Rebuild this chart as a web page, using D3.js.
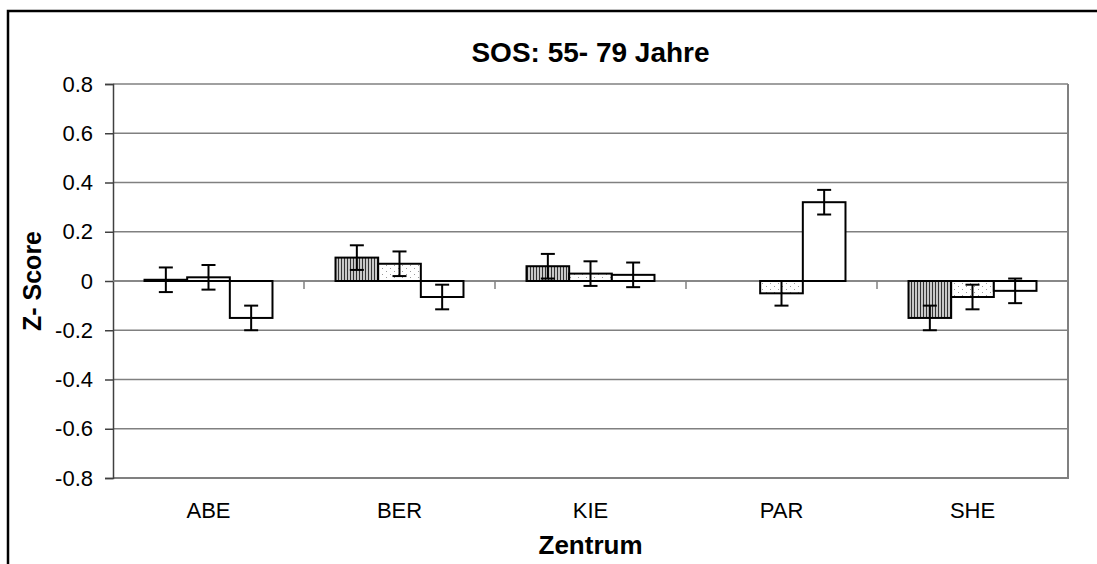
<!DOCTYPE html>
<html>
<head>
<meta charset="utf-8">
<script src="https://cdn.jsdelivr.net/npm/d3@7"></script>
<style>
  body { margin: 0; background: #fff; }
  text { font-family: "Liberation Sans", Arial, sans-serif; }
</style>
</head>
<body>
<div id="chart"></div>
<script>
// size of the svg
var svgWidth = 1097;
var svgHeight = 564;

// plot area
var margin = { top: 84, right: 29, bottom: 86, left: 113 };
var width = svgWidth - margin.left - margin.right;
var height = svgHeight - margin.top - margin.bottom;

// data
var centres = ["ABE", "BER", "KIE", "PAR", "SHE"];
var series = ["s1", "s2", "s3"];
var s1 = [0.005, 0.095, 0.06, null, -0.15];
var s2 = [0.015, 0.07, 0.03, -0.05, -0.065];
var s3 = [-0.15, -0.065, 0.025, 0.32, -0.04];
var err = 0.05;
var yTicks = [0.8, 0.6, 0.4, 0.2, 0, -0.2, -0.4, -0.6, -0.8];

var svg = d3.select("#chart").append("svg")
  .attr("width", svgWidth)
  .attr("height", svgHeight);

// patterns
var defs = svg.append("defs");
var stripes = defs.append("pattern")
  .attr("id", "stripes").attr("patternUnits", "userSpaceOnUse")
  .attr("width", 3).attr("height", 3);
stripes.append("rect").attr("width", 3).attr("height", 3).attr("fill", "#c8c8c8");
stripes.append("rect").attr("x", 0).attr("width", 1).attr("height", 3).attr("fill", "#333");

var dots = defs.append("pattern")
  .attr("id", "dots").attr("patternUnits", "userSpaceOnUse")
  .attr("width", 8).attr("height", 6);
dots.append("rect").attr("width", 8).attr("height", 6).attr("fill", "#fff");
dots.append("rect").attr("x", 1).attr("y", 1).attr("width", 1).attr("height", 1).attr("fill", "#999");
dots.append("rect").attr("x", 5).attr("y", 4).attr("width", 1).attr("height", 1).attr("fill", "#999");

var fills = { s1: "url(#stripes)", s2: "url(#dots)", s3: "#fff" };

// outer frame
svg.append("rect")
  .attr("x", 8).attr("y", 11)
  .attr("width", 1200).attr("height", 700)
  .attr("fill", "none").attr("stroke", "#000").attr("stroke-width", 2.5);

var chartGroup = svg.append("g")
  .attr("transform", `translate(${margin.left}, ${margin.top})`);

// scales
var x0 = d3.scaleBand().domain(centres).range([0, width]).paddingInner(0.33).paddingOuter(0.165);
var x1 = d3.scaleBand().domain(series).range([0, x0.bandwidth()]);
var y = d3.scaleLinear().domain([-0.8, 0.8]).range([height, 0]);

// gridlines
chartGroup.append("g").selectAll("line")
  .data(yTicks.filter(d => d !== -0.8))
  .enter().append("line")
  .attr("x1", 0).attr("x2", width)
  .attr("y1", d => y(d)).attr("y2", d => y(d))
  .attr("stroke", "#808080").attr("stroke-width", 1.5);

// plot border right / bottom
chartGroup.append("path")
  .attr("d", `M0,${height}H${width}V0`)
  .attr("fill", "none").attr("stroke", "#808080").attr("stroke-width", 2);

// y axis
var leftAxis = d3.axisLeft(y).tickValues(yTicks).tickSize(8).tickPadding(12)
  .tickFormat(d => d === 0 ? "0" : d.toFixed(1));
var yAxis = chartGroup.append("g").call(leftAxis);
yAxis.select(".domain").attr("stroke", "#404040").attr("stroke-width", 1.5);
yAxis.selectAll(".tick line").attr("stroke", "#404040").attr("stroke-width", 1.5);
yAxis.selectAll(".tick text").attr("font-size", "22px").attr("fill", "#000")
  .attr("font-family", "Liberation Sans, Arial, sans-serif");

// x axis at zero
var zeroAxis = chartGroup.append("g").attr("transform", `translate(0, ${y(0)})`);
zeroAxis.append("line").attr("x1", 0).attr("x2", width)
  .attr("stroke", "#808080").attr("stroke-width", 1.5);
zeroAxis.selectAll(".sep")
  .data(centres.slice(1))
  .enter().append("line")
  .attr("x1", d => x0(d) - x0.step() * x0.paddingInner() / 2)
  .attr("x2", d => x0(d) - x0.step() * x0.paddingInner() / 2)
  .attr("y1", 0).attr("y2", 8)
  .attr("stroke", "#808080").attr("stroke-width", 1.5);

// category labels
var bottomAxis = d3.axisBottom(x0).tickSize(0).tickPadding(24);
var xAxis = chartGroup.append("g").attr("transform", `translate(0, ${height})`).call(bottomAxis);
xAxis.select(".domain").remove();
xAxis.selectAll(".tick text").attr("font-size", "22px").attr("fill", "#000")
  .attr("font-family", "Liberation Sans, Arial, sans-serif");

// bars
var rows = [];
centres.forEach(function(c, i) {
  rows.push({ c: c, s: "s1", v: s1[i] });
  rows.push({ c: c, s: "s2", v: s2[i] });
  rows.push({ c: c, s: "s3", v: s3[i] });
});
rows = rows.filter(d => d.v !== null);

chartGroup.selectAll(".bar")
  .data(rows)
  .enter().append("rect")
  .attr("class", "bar")
  .attr("x", d => x0(d.c) + x1(d.s))
  .attr("y", d => y(Math.max(0, d.v)))
  .attr("width", x1.bandwidth())
  .attr("height", d => Math.abs(y(d.v) - y(0)))
  .attr("fill", d => fills[d.s])
  .attr("stroke", "#000").attr("stroke-width", 2);

// error bars
var eb = chartGroup.selectAll(".err")
  .data(rows)
  .enter().append("g").attr("class", "err")
  .attr("stroke", "#000").attr("stroke-width", 2);
eb.append("line")
  .attr("x1", d => x0(d.c) + x1(d.s) + x1.bandwidth() / 2)
  .attr("x2", d => x0(d.c) + x1(d.s) + x1.bandwidth() / 2)
  .attr("y1", d => y(d.v + err)).attr("y2", d => y(d.v - err));
[1, -1].forEach(function(k) {
  eb.append("line")
    .attr("x1", d => x0(d.c) + x1(d.s) + x1.bandwidth() / 2 - 7)
    .attr("x2", d => x0(d.c) + x1(d.s) + x1.bandwidth() / 2 + 7)
    .attr("y1", d => y(d.v + k * err)).attr("y2", d => y(d.v + k * err));
});

// titles
svg.append("text")
  .attr("x", margin.left + width / 2).attr("y", 62)
  .attr("text-anchor", "middle")
  .attr("font-size", "28px").attr("font-weight", "bold")
  .text("SOS: 55- 79 Jahre");

svg.append("text")
  .attr("x", margin.left + width / 2).attr("y", 554)
  .attr("text-anchor", "middle")
  .attr("font-size", "26px").attr("font-weight", "bold")
  .text("Zentrum");

svg.append("text")
  .attr("transform", `translate(41, ${margin.top + height / 2}) rotate(-90)`)
  .attr("text-anchor", "middle")
  .attr("font-size", "25px").attr("font-weight", "bold")
  .text("Z- Score");
</script>
</body>
</html>
